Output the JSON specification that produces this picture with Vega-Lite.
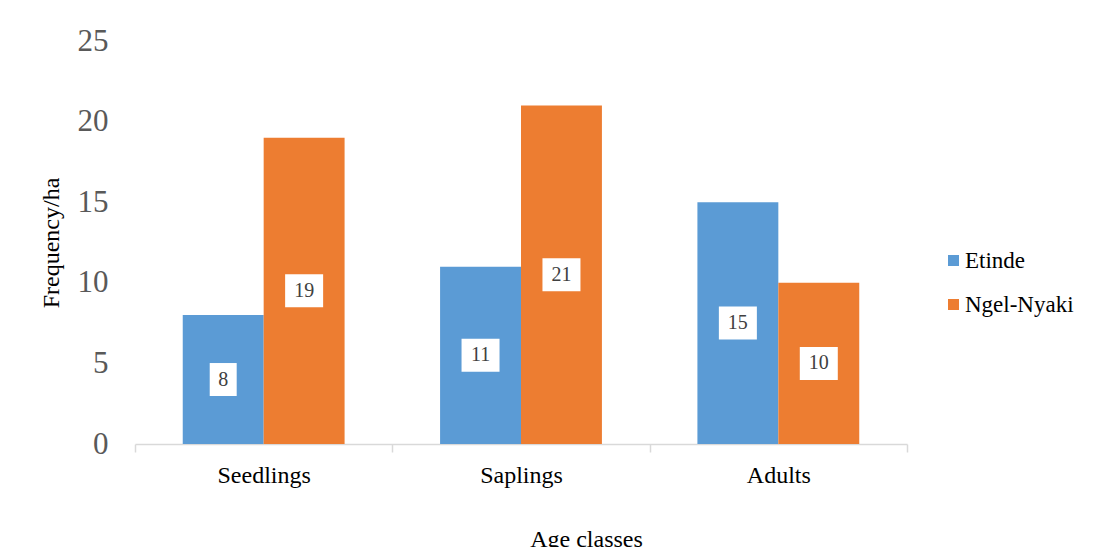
{
  "$schema": "https://vega.github.io/schema/vega-lite/v6.json",
  "width": 772,
  "height": 403,
  "autosize": {"type": "none"},
  "padding": {"left": 135, "top": 41, "right": 186, "bottom": 103},
  "background": "white",
  "config": {
    "font": "Liberation Serif",
    "view": {"stroke": null},
    "legend": {"labelFont": "Liberation Serif"},
    "text": {"font": "Liberation Serif"}
  },
  "data": {
    "values": [
      {"age": "Seedlings", "site": "Etinde", "freq": 8},
      {"age": "Seedlings", "site": "Ngel-Nyaki", "freq": 19},
      {"age": "Saplings", "site": "Etinde", "freq": 11},
      {"age": "Saplings", "site": "Ngel-Nyaki", "freq": 21},
      {"age": "Adults", "site": "Etinde", "freq": 15},
      {"age": "Adults", "site": "Ngel-Nyaki", "freq": 10}
    ]
  },
  "encoding": {
    "x": {
      "field": "age",
      "type": "nominal",
      "sort": ["Seedlings", "Saplings", "Adults"],
      "scale": {"paddingInner": 0, "paddingOuter": 0},
      "axis": {
        "title": "Age classes",
        "titleFont": "Liberation Serif",
        "titleFontSize": 24,
        "titleFontWeight": "normal",
        "titleColor": "black",
        "titleX": 451,
        "titleY": 102,
        "titleBaseline": "alphabetic",
        "labelFont": "Liberation Serif",
        "labelFontSize": 24,
        "labelColor": "black",
        "labelPadding": 11,
        "labelAngle": 0,
        "domainColor": "#d9d9d9",
        "domainWidth": 1.5,
        "tickColor": "#d9d9d9",
        "tickWidth": 1.5,
        "tickSize": 8,
        "tickBand": "extent"
      }
    },
    "xOffset": {
      "field": "site",
      "type": "nominal",
      "sort": ["Etinde", "Ngel-Nyaki"],
      "scale": {"paddingInner": 0, "paddingOuter": 0.59}
    }
  },
  "layer": [
    {
      "mark": {"type": "bar"},
      "encoding": {
        "y": {
          "field": "freq",
          "type": "quantitative",
          "scale": {"domain": [0, 25], "nice": false},
          "axis": {
            "title": "Frequency/ha",
            "titleFont": "Liberation Serif",
            "titleFontSize": 24,
            "titleFontWeight": "normal",
            "titleColor": "black",
            "titlePadding": 14,
            "values": [0, 5, 10, 15, 20, 25],
            "labelFont": "Liberation Serif",
            "labelFontSize": 31,
            "labelColor": "#595959",
            "labelPadding": 27,
            "ticks": false,
            "domain": false,
            "grid": false
          }
        },
        "color": {
          "field": "site",
          "type": "nominal",
          "scale": {"domain": ["Etinde", "Ngel-Nyaki"], "range": ["#5B9BD5", "#ED7D31"]},
          "legend": {
            "title": null,
            "orient": "none",
            "legendX": 807,
            "legendY": 208,
            "labelFont": "Liberation Serif",
            "labelFontSize": 23,
            "labelColor": "black",
            "symbolType": "square",
            "symbolSize": 121,
            "symbolStrokeWidth": 0,
            "labelOffset": 0,
            "rowPadding": 20,
            "padding": 0
          }
        }
      }
    },
    {
      "layer": [
        {
          "mark": {"type": "point", "filled": true, "color": "white", "opacity": 1, "size": 1444, "strokeWidth": 0},
          "encoding": {
            "y": {"field": "freq", "type": "quantitative", "scale": {"domain": [0, 50], "nice": false}, "axis": null},
            "shape": {
              "condition": {"test": "datum.freq >= 10", "value": "M-1,-0.868H1V0.868H-1Z"},
              "value": "M-0.71,-0.868H0.71V0.868H-0.71Z"
            }
          }
        },
        {
          "mark": {"type": "text", "font": "Liberation Serif", "fontSize": 20, "color": "#404040", "baseline": "middle", "align": "center"},
          "encoding": {
            "y": {"field": "freq", "type": "quantitative", "scale": {"domain": [0, 50], "nice": false}, "axis": null},
            "text": {"field": "freq", "type": "quantitative"}
          }
        }
      ]
    }
  ],
  "resolve": {"scale": {"y": "independent"}}
}
